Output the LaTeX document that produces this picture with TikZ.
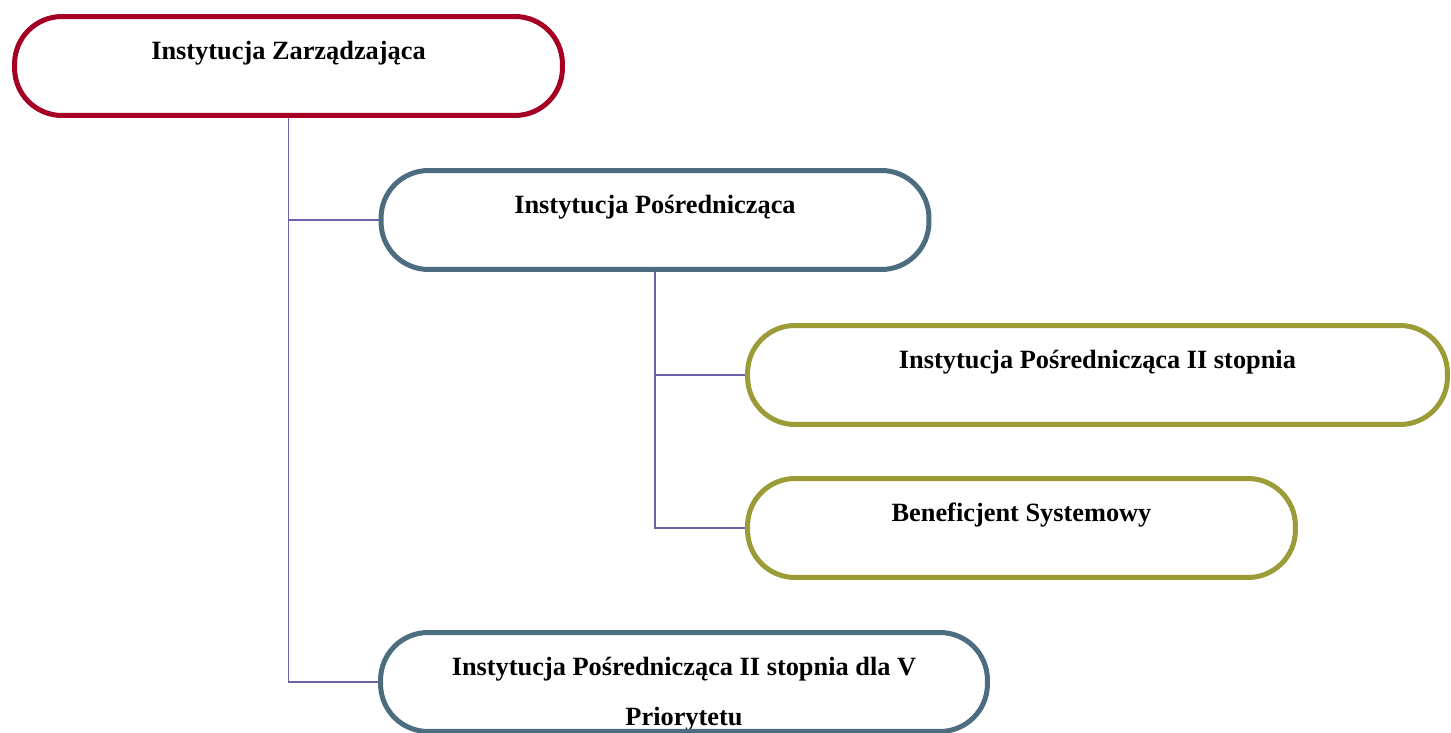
\documentclass[tikz,border=0pt]{standalone}
\usepackage{fontspec}
\setmainfont{Liberation Serif}
\usepackage{tikz}
\usetikzlibrary{arrows,positioning}

\definecolor{zred}{RGB}{165,0,36}
\definecolor{zblue}{RGB}{76,108,128}
\definecolor{zolive}{RGB}{155,155,55}
\definecolor{zline}{RGB}{108,100,166}

\begin{document}
\begin{tikzpicture}[x=0.02cm,y=-0.02cm,
	pill/.style={draw=#1,line width=0.1cm,rounded corners=0.95cm,minimum height=1.98cm,minimum width=10.96cm,inner sep=0pt},
	txt/.style={anchor=north,inner sep=0pt,align=center,font=\fontsize{15}{28.5}\selectfont\bfseries},
	conn/.style={zline,line width=0.85pt}]
	\useasboundingbox (0,0) rectangle (1451,733);

	\coordinate(0) at (288.5,66);
	\coordinate(1) at (655,220);
	\coordinate(2) at (1097.5,375);
	\coordinate(3) at (1021.5,528);
	\coordinate(4) at (684,682);

	\node[txt] (iz-t) at ([yshift=0.51cm]0) {Instytucja Zarządzająca};
	\node[txt] (ip-t) at ([yshift=0.51cm]1) {Instytucja Pośrednicząca};
	\node[txt] (ip2-t) at ([yshift=0.51cm]2) {Instytucja Pośrednicząca II stopnia};
	\node[txt] (bs-t) at ([yshift=0.51cm]3) {Beneficjent Systemowy};
	\node[txt] (ip5-t) at ([yshift=0.51cm]4) {Instytucja Pośrednicząca II stopnia dla V\\Priorytetu};

	\node[pill=zred] (iz) at (0) {};
	\node[pill=zblue] (ip) at (1) {};
	\node[pill=zolive,minimum width=14cm] (ip2) at (2) {};
	\node[pill=zolive] (bs) at (3) {};
	\node[pill=zblue,minimum width=12.14cm] (ip5) at (4) {};

	\draw[conn] (iz.south) |- (ip5.west);
	\draw[conn] (iz.south) |- (ip.west);
	\draw[conn] (ip.south) |- (ip2.west);
	\draw[conn] (ip.south) |- (bs.west);
\end{tikzpicture}
\end{document}
